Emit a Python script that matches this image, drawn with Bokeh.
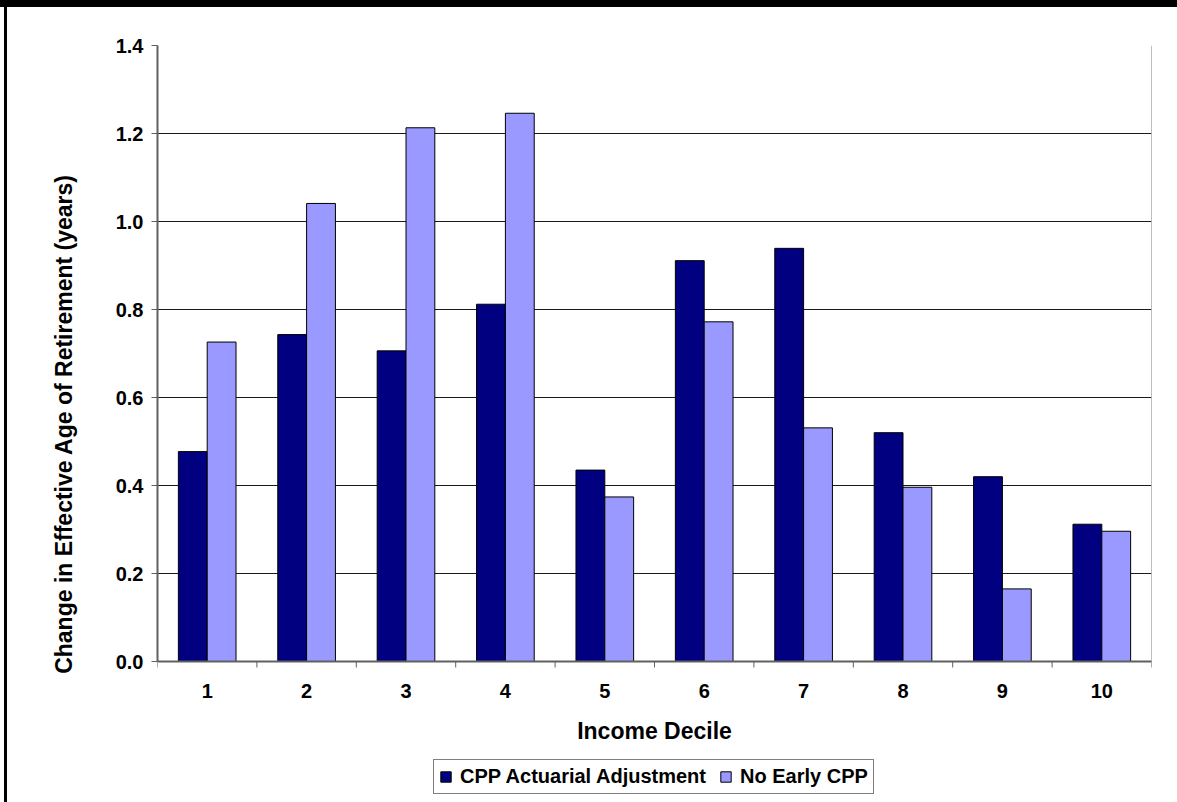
from bokeh.plotting import figure
from bokeh.models import (Range1d, FixedTicker, Legend, LegendItem,
                          PrintfTickFormatter)
from bokeh.core.properties import value
from bokeh.embed import file_html
from bokeh.resources import INLINE

# Income deciles and the change in effective retirement age (years)
deciles = [1, 2, 3, 4, 5, 6, 7, 8, 9, 10]
decile_labels = ["1", "2", "3", "4", "5", "6", "7", "8", "9", "10"]
actuarial_adjustment = [0.477, 0.743, 0.706, 0.812, 0.435, 0.911, 0.939, 0.520, 0.420, 0.312]
no_early_cpp = [0.726, 1.041, 1.213, 1.246, 0.374, 0.772, 0.531, 0.396, 0.165, 0.296]
series_names = ["CPP Actuarial Adjustment", "No Early CPP"]
y_ticks = [0.0, 0.2, 0.4, 0.6, 0.8, 1.0, 1.2, 1.4]

FONT = "Liberation Sans"
DARK = "#000080"
LIGHT = "#9999FF"
AXIS_GREY = "#606060"
BAR_W = 0.29

Y_MAX = 1.4
PLOT_H = 616                      # pixel height of the 0 .. 1.4 value span
PX = PLOT_H / Y_MAX               # pixels per unit
FRAME_H = 757                     # frame runs on below zero to hold the decile axis and legend
y_min = Y_MAX - FRAME_H / PX

p = figure(frame_width=994, frame_height=FRAME_H, output_backend="svg",
           toolbar_location=None, x_axis_location=None,
           x_range=Range1d(0.5, 10.5), y_range=Range1d(y_min, Y_MAX),
           min_border_left=150, min_border_right=26, min_border_top=38,
           min_border_bottom=0)
p.background_fill_color = "white"
p.border_fill_color = "white"
p.outline_line_color = None

# page frame: black band along the top and a thin rule down the left side
p.styles = {
    "border-top": "7px solid black",
    "padding-left": "7px",
    "background": "linear-gradient(to right, white 0px, white 4px, black 4px, black 7px, white 7px)",
}

r1 = p.vbar(x=[d - BAR_W / 2 for d in deciles], top=actuarial_adjustment, width=BAR_W,
            fill_color=DARK, line_color="black", line_width=1)
r2 = p.vbar(x=[d + BAR_W / 2 for d in deciles], top=no_early_cpp, width=BAR_W,
            fill_color=LIGHT, line_color="black", line_width=1)

# grid
p.xgrid.visible = False
p.ygrid.ticker = FixedTicker(ticks=y_ticks)
p.ygrid.grid_line_color = "#1a1a1a"
p.ygrid.grid_line_width = 1

# plot-area right edge
p.segment(x0=[10.5], y0=[0], x1=[10.5], y1=[Y_MAX], line_color="#808080", line_width=1)

# y axis, limited to the value span
ya = p.yaxis[0]
ya.bounds = (0, Y_MAX)
ya.ticker = FixedTicker(ticks=y_ticks)
ya.formatter = PrintfTickFormatter(format="%.1f")
ya.axis_line_color = AXIS_GREY
ya.axis_line_width = 2
ya.major_tick_line_color = AXIS_GREY
ya.major_tick_out = 6
ya.major_tick_in = 0
ya.minor_tick_line_color = None
ya.major_label_standoff = 8
ya.major_label_text_font = FONT
ya.major_label_text_font_style = "bold"
ya.major_label_text_font_size = "20px"
ya.major_label_text_color = "black"
ya.axis_label = "Change in Effective Age of Retirement (years)"
ya.axis_label_text_font = FONT
ya.axis_label_text_font_style = "bold"
ya.axis_label_text_font_size = "23px"
ya.axis_label_text_color = "black"
ya.axis_label_standoff = 36

# decile axis at zero: rule, ticks between deciles, labels and title
p.segment(x0=[0.5], y0=[0], x1=[10.5], y1=[0], line_color=AXIS_GREY, line_width=2)
bounds = [d - 0.5 for d in deciles] + [deciles[-1] + 0.5]
p.segment(x0=bounds, y0=[0] * len(bounds), x1=bounds, y1=[-6 / PX] * len(bounds),
          line_color=AXIS_GREY, line_width=1)
p.text(x=deciles, y=[-29 / PX] * len(deciles), text=decile_labels,
       text_font=value(FONT), text_font_style="bold", text_font_size="20px",
       text_color="black", text_align="center", text_baseline="middle")
p.text(x=[5.5], y=[-69 / PX], text=["Income Decile"],
       text_font=value(FONT), text_font_style="bold", text_font_size="23px",
       text_color="black", text_align="center", text_baseline="middle")

# legend under the axis title
legend = Legend(items=[LegendItem(label=series_names[0], renderers=[r1]),
                       LegendItem(label=series_names[1], renderers=[r2])],
                orientation="horizontal", location=(276, 8))
legend.label_text_font = FONT
legend.label_text_font_style = "bold"
legend.label_text_font_size = "20px"
legend.label_text_color = "black"
legend.glyph_width = 13
legend.glyph_height = 13
legend.label_standoff = 8
legend.spacing = 13
legend.padding = 5
legend.margin = 0
legend.border_line_color = "black"
legend.border_line_width = 1
legend.background_fill_color = "white"
legend.background_fill_alpha = 1
p.add_layout(legend, "center")

open("out.html", "w").write(file_html(p, INLINE))
